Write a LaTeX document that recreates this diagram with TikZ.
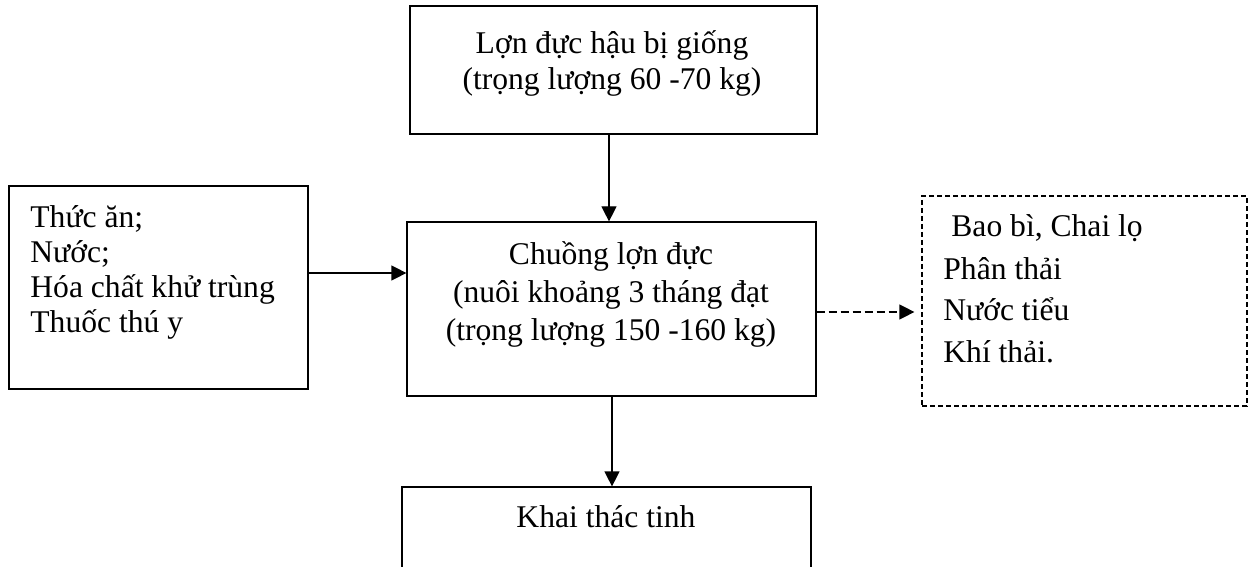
\documentclass[tikz,border=0pt]{standalone}
\usepackage{fontspec}
\setmainfont{Liberation Serif}
\usetikzlibrary{arrows.meta}

\begin{document}
\begin{tikzpicture}[x=0.5pt,y=-0.5pt,
  box/.style={draw, line width=0.6pt, rectangle, inner sep=0pt},
  wastebox/.style={box, dash pattern=on 2.5pt off 1.5pt},
  txt/.style={inner sep=0pt, font=\fontsize{15.8pt}{18pt}\selectfont},
  ctxt/.style={txt, anchor=base},
  ltxt/.style={txt, anchor=base west},
  arr/.style={line width=0.6pt, -{Triangle[length=7.5pt,width=7.5pt]}},
  darr/.style={arr, dash pattern=on 4pt off 2pt}]

\useasboundingbox (0,0) rectangle (1250,567);
\clip (0,0) rectangle (1250,567);
\fill[white] (0,0) rectangle (1250,567);

% boxes
\node[box, minimum width=203.5pt, minimum height=64pt]   (src)   at (613.5,70) {};
\node[box, minimum width=149.5pt, minimum height=101.5pt] (input) at (158.5,287.5) {};
\node[box, minimum width=204.5pt, minimum height=87pt]   (pen)   at (611.5,309) {};
\node[wastebox, minimum width=162.5pt, minimum height=105pt] (waste) at (1084.5,301) {};
\node[box, minimum width=204.5pt, minimum height=76.5pt] (semen) at (606.5,563.5) {};

% texts
\node[ctxt] (src1) at (612,54) {Lợn đực hậu bị giống};
\node[ctxt] (src2) at (612,90) {(trọng lượng 60 -70 kg)};

\node[ltxt] (in1) at (30,228) {Thức ăn;};
\node[ltxt] (in2) at (30,263) {Nước;};
\node[ltxt] (in3) at (30,298) {Hóa chất khử trùng};
\node[ltxt] (in4) at (30,333) {Thuốc thú y};

\node[ctxt] (pen1) at (611,265) {Chuồng lợn đực};
\node[ctxt] (pen2) at (611,303) {(nuôi khoảng 3 tháng đạt};
\node[ctxt] (pen3) at (611,341) {(trọng lượng 150 -160 kg)};

\node[ltxt] (w1) at (951,237) {Bao bì, Chai lọ};
\node[ltxt] (w2) at (943,279) {Phân thải};
\node[ltxt] (w3) at (943,321) {Nước tiểu};
\node[ltxt] (w4) at (943,363) {Khí thải.};

\node[ctxt] (semen1) at (606,527) {Khai thác tinh};

% connectors
\draw[arr] (src.south -| 609,0) -- (pen.north -| 609,0);
\draw[arr] (input.east |- 0,273) -- (pen.west |- 0,273);
\draw[darr] (pen.east |- 0,312) -- ([xshift=-3.5pt]waste.west |- 0,312);
\draw[arr] (pen.south -| 612,0) -- (semen.north -| 612,0);
\end{tikzpicture}
\end{document}
